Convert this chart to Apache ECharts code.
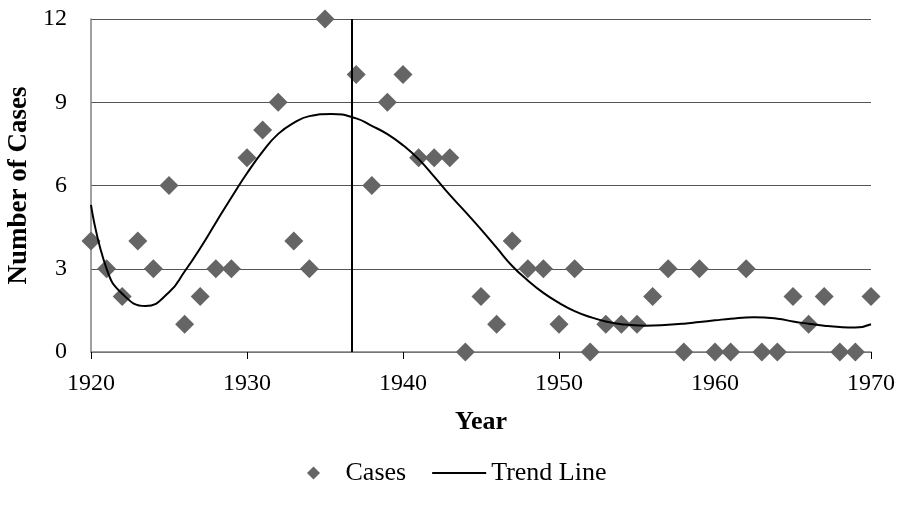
<!DOCTYPE html>
<html>
<head>
<meta charset="utf-8">
<script src="https://cdn.jsdelivr.net/npm/echarts@6/dist/echarts.min.js"></script>
<style>
  html, body { margin: 0; padding: 0; background: #fff; }
  #chart { width: 904px; height: 510px; }
</style>
</head>
<body>
<div id="chart"></div>
<script>
// Cases per year (1936 has no point)
const years = [1920, 1921, 1922, 1923, 1924, 1925, 1926, 1927, 1928, 1929,
  1930, 1931, 1932, 1933, 1934, 1935, 1937, 1938, 1939, 1940,
  1941, 1942, 1943, 1944, 1945, 1946, 1947, 1948, 1949, 1950,
  1951, 1952, 1953, 1954, 1955, 1956, 1957, 1958, 1959, 1960,
  1961, 1962, 1963, 1964, 1965, 1966, 1967, 1968, 1969, 1970];
const cases = [4, 3, 2, 4, 3, 6, 1, 2, 3, 3,
  7, 8, 9, 4, 3, 12, 10, 6, 9, 10,
  7, 7, 7, 0, 2, 1, 4, 3, 3, 1,
  3, 0, 1, 1, 1, 2, 3, 0, 3, 0,
  0, 3, 0, 0, 2, 1, 2, 0, 0, 2];

// Trend line (turning points taken where they sit)
const trendYears = [1920, 1921, 1922, 1923.5, 1925, 1926, 1927, 1928, 1929,
  1930, 1931, 1932, 1933, 1934, 1935.4, 1937, 1938, 1939,
  1940, 1941, 1942, 1943, 1944, 1945, 1946, 1947, 1948, 1949,
  1950, 1951, 1952, 1953, 1954, 1955.5, 1957, 1958, 1959,
  1960, 1961, 1962.5, 1964, 1965, 1966, 1967, 1968, 1969, 1970];
const trendValues = [5.3, 3.0, 2.1, 1.66, 2.15, 2.9, 3.74, 4.66, 5.57,
  6.44, 7.22, 7.86, 8.26, 8.5, 8.58, 8.42, 8.15, 7.85,
  7.45, 6.95, 6.32, 5.66, 5.05, 4.42, 3.76, 3.1, 2.58, 2.13,
  1.77, 1.47, 1.26, 1.1, 1.0, 0.95, 0.98, 1.02, 1.08,
  1.14, 1.2, 1.25, 1.2, 1.1, 1.02, 0.95, 0.9, 0.88, 1.0];

const xTicks = [1920, 1930, 1940, 1950, 1960, 1970];
const yTicks = [0, 3, 6, 9, 12];
const markerYear = 1936.7;

const font = '"Liberation Serif", "DejaVu Serif", serif';

const chart = echarts.init(document.getElementById('chart'));

chart.setOption({
  animation: false,
  textStyle: { fontFamily: font, color: '#000' },
  grid: { left: 91, right: 33, top: 19, bottom: 158, outerBoundsMode: 'none', containLabel: false },
  legend: {
    top: 455,
    left: 302,
    itemGap: 26,
    itemWidth: 54,
    itemHeight: 13,
    textStyle: { fontFamily: font, fontSize: 26, color: '#000' },
    data: [
      { name: 'Cases', icon: 'path://M0,-1L1,0L0,1L-1,0Z' },
      { name: 'Trend Line', icon: 'path://M0,0L54,0L54,2L0,2Z' }
    ]
  },
  xAxis: {
    type: 'value',
    min: xTicks[0],
    max: xTicks[xTicks.length - 1],
    interval: 10,
    name: 'Year',
    nameLocation: 'middle',
    nameGap: 57,
    nameTextStyle: { fontFamily: font, fontSize: 26, fontWeight: 'bold', color: '#000' },
    axisLine: { lineStyle: { color: '#808080', width: 1.5 } },
    axisTick: { show: true, length: 7, lineStyle: { color: '#000' } },
    axisLabel: { fontFamily: font, fontSize: 24, color: '#000', margin: 20, formatter: v => String(v) },
    splitLine: { show: false }
  },
  yAxis: {
    type: 'value',
    min: yTicks[0],
    max: yTicks[yTicks.length - 1],
    interval: 3,
    name: 'Number of Cases',
    nameLocation: 'middle',
    nameGap: 58,
    nameTextStyle: { fontFamily: font, fontSize: 27, fontWeight: 'bold', color: '#000' },
    axisLine: { show: true, lineStyle: { color: '#808080', width: 1.5 } },
    axisTick: { show: false },
    axisLabel: { fontFamily: font, fontSize: 24, color: '#000', margin: 24 },
    splitLine: { show: true, lineStyle: { color: '#555', width: 1.2 } }
  },
  series: [
    {
      name: 'Cases',
      type: 'scatter',
      symbol: 'diamond',
      symbolSize: 19,
      clip: false,
      itemStyle: { color: '#656565', opacity: 1 },
      data: years.map((y, i) => [y, cases[i]]),
      z: 3
    },
    {
      name: 'Trend Line',
      type: 'line',
      smooth: 0.5,
      showSymbol: false,
      symbol: 'none',
      lineStyle: { color: '#000', width: 2 },
      itemStyle: { color: '#000' },
      data: trendYears.map((y, i) => [y, trendValues[i]]),
      z: 4,
      markLine: {
        silent: true,
        symbol: 'none',
        label: { show: false },
        lineStyle: { color: '#000', width: 2, type: 'solid' },
        data: [{ xAxis: markerYear }]
      }
    }
  ]
});
</script>
</body>
</html>
